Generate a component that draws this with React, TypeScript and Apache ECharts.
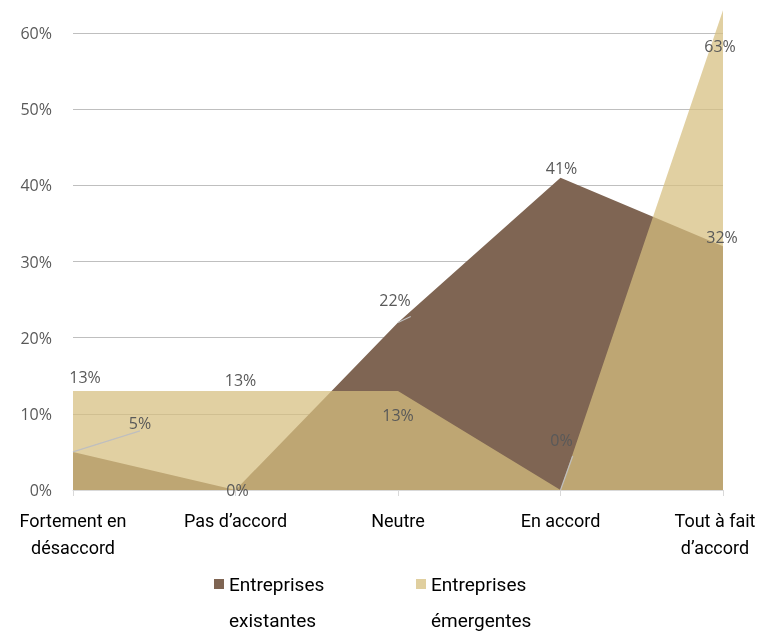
import React, { useEffect, useRef } from "react";
import * as echarts from "echarts";

const categories = ["Fortement en\ndésaccord", "Pas d’accord", "Neutre", "En accord", "Tout à fait\nd’accord"];
const existantes = [5, 0, 22, 41, 32];
const emergentes = [13, 13, 13, 0, 63];
const seriesNames = ["Entreprises existantes", "Entreprises émergentes"];
const existantesOffsets = [[67, -29], [2, 0], [-3, -22], [1, -10], [-1, -9]];
const emergentesOffsets = [[12, -14], [5, -11], [0, 24], [1, -50], [-3, 36]];
const existantesLeader = [true, false, true, false, false];
const emergentesLeader = [false, false, false, true, false];

const labelFont = "'Open Sans', 'DejaVu Sans', sans-serif";
const narrowFont = "'Roboto', 'Liberation Sans Narrow', sans-serif";

function buildData(values: number[], offsets: number[][], leaders: boolean[]) {
  return values.map((v, i) => ({
    value: v,
    label: { offset: offsets[i] },
    labelLine: { show: leaders[i], lineStyle: { color: "#bfbfbf", width: 1.2 } },
  }));
}

export default function App() {
  const ref = useRef<HTMLDivElement>(null);
  useEffect(() => {
    if (!ref.current) return;
    const chart = echarts.init(ref.current, null, { renderer: "svg" });
    const labelCommon = {
      show: true,
      position: "inside",
      formatter: "{c}%",
      color: "#595959",
      fontSize: 16,
      fontFamily: labelFont,
    };
    const legendCommon = {
      top: 530,
      padding: 0,
      itemWidth: 10,
      itemHeight: 10,
      itemGap: 4,
      icon: "rect",
      formatter: (n: string) => " \n" + n.replace(" ", "\n"),
      textStyle: { fontSize: 19, fontFamily: narrowFont, color: "#000", lineHeight: 36 },
    };
    const areaBase = {
      type: "line",
      clip: false,
      symbol: "circle",
      symbolSize: 0.01,
      lineStyle: { width: 0 },
      label: { show: false },
      silent: true,
    };
    const xRich = { color: "#000", fontSize: 18, fontFamily: narrowFont, lineHeight: 27 };
    chart.setOption({
      animation: false,
      grid: { left: 73, right: 38, top: 33, bottom: 146, outerBoundsMode: "none" },
      xAxis: {
        type: "category",
        boundaryGap: false,
        data: categories,
        axisLine: { lineStyle: { color: "#d9d9d9", width: 1 } },
        axisTick: { show: true, length: 6, lineStyle: { color: "#d9d9d9" } },
        axisLabel: {
          interval: 0,
          hideOverlap: false,
          color: "#000",
          fontSize: 18,
          fontFamily: narrowFont,
          lineHeight: 27,
          margin: 17,
          formatter: (v: string, i: number) =>
            v
              .split("\n")
              .map((s) => (i === categories.length - 1 ? `{last|${s}}` : `{n|${s}}`))
              .join("\n"),
          rich: {
            n: xRich,
            last: { ...xRich, padding: [0, 16, 0, 0] },
          },
        },
      },
      yAxis: {
        type: "value",
        min: 0,
        max: 60,
        interval: 10,
        axisLine: { show: false },
        axisTick: { show: false },
        splitLine: { lineStyle: { color: "#bfbfbf", width: 1.2 } },
        axisLabel: {
          formatter: "{value}%",
          color: "#595959",
          fontSize: 16,
          fontFamily: labelFont,
          margin: 21,
        },
      },
      legend: [
        { ...legendCommon, left: 214, data: [seriesNames[0]] },
        { ...legendCommon, left: 416, data: [seriesNames[1]] },
      ],
      series: [
        {
          ...areaBase,
          name: seriesNames[0],
          data: existantes,
          color: "#7f6553",
          itemStyle: { color: "#7f6553" },
          areaStyle: { color: "#7f6553", opacity: 1 },
          z: 2,
        },
        {
          ...areaBase,
          name: seriesNames[1],
          data: emergentes,
          color: "#e0cf9f",
          itemStyle: { color: "#e0cf9f" },
          areaStyle: { color: "rgb(214,190,127)", opacity: 0.73 },
          z: 3,
        },
        {
          ...areaBase,
          name: "labels-existantes",
          data: buildData(existantes, existantesOffsets, existantesLeader),
          itemStyle: { color: "transparent" },
          label: labelCommon,
          z: 5,
        },
        {
          ...areaBase,
          name: "labels-emergentes",
          data: buildData(emergentes, emergentesOffsets, emergentesLeader),
          itemStyle: { color: "transparent" },
          label: labelCommon,
          z: 5,
        },
      ],
    });
    return () => chart.dispose();
  }, []);
  return <div ref={ref} style={{ position: "fixed", left: 0, top: 0, width: 761, height: 636 }} />;
}
